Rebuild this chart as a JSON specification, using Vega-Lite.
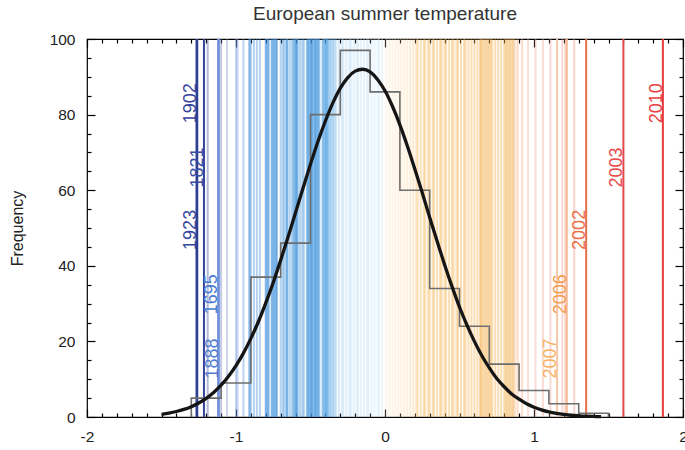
{
  "$schema": "https://vega.github.io/schema/vega-lite/v6.json",
  "width": 596,
  "height": 378,
  "autosize": "none",
  "padding": {"left": 87, "top": 39, "right": 2, "bottom": 33},
  "title": {"text": "European summer temperature", "fontSize": 19, "fontWeight": "normal", "font": "Liberation Sans", "color": "#333333", "offset": 8, "frame": "group", "anchor": "middle"},
  "config": {"view": {"stroke": "#000000", "strokeWidth": 1.2}, "font": "Liberation Sans"},
  "datasets": {
    "stripes": [
      {"t": -1.19}, {"t": -1.10}, {"t": -1.06}, {"t": -1.00}, {"t": -0.99}, {"t": -0.95}, {"t": -0.91}, {"t": -0.91}, {"t": -0.90},
      {"t": -0.88}, {"t": -0.86}, {"t": -0.84}, {"t": -0.80}, {"t": -0.80}, {"t": -0.79}, {"t": -0.785}, {"t": -0.78},
      {"t": -0.76}, {"t": -0.76}, {"t": -0.75}, {"t": -0.745}, {"t": -0.74}, {"t": -0.73}, {"t": -0.73}, {"t": -0.725},
      {"t": -0.70}, {"t": -0.685}, {"t": -0.675}, {"t": -0.66}, {"t": -0.66}, {"t": -0.655},
      {"t": -0.64}, {"t": -0.625},
      {"t": -0.615}, {"t": -0.61}, {"t": -0.60}, {"t": -0.60}, {"t": -0.595}, {"t": -0.59}, {"t": -0.585},
      {"t": -0.57}, {"t": -0.555}, {"t": -0.545},
      {"t": -0.525}, {"t": -0.52}, {"t": -0.515}, {"t": -0.51}, {"t": -0.50}, {"t": -0.50}, {"t": -0.495}, {"t": -0.49}, {"t": -0.485}, {"t": -0.48}, {"t": -0.47}, {"t": -0.47}, {"t": -0.465}, {"t": -0.46}, {"t": -0.455}, {"t": -0.45}, {"t": -0.445}, {"t": -0.44},
      {"t": -0.42}, {"t": -0.415}, {"t": -0.41}, {"t": -0.40}, {"t": -0.40}, {"t": -0.395}, {"t": -0.39}, {"t": -0.385}, {"t": -0.38},
      {"t": -0.37}, {"t": -0.36}, {"t": -0.35}, {"t": -0.34}, {"t": -0.33},
      {"t": -0.31}, {"t": -0.29}, {"t": -0.28}, {"t": -0.26}, {"t": -0.24}, {"t": -0.23}, {"t": -0.21}, {"t": -0.19}, {"t": -0.18}, {"t": -0.16}, {"t": -0.14}, {"t": -0.12}, {"t": -0.11}, {"t": -0.09}, {"t": -0.07}, {"t": -0.05}, {"t": -0.04}, {"t": -0.02},
      {"t": 0.01}, {"t": 0.03}, {"t": 0.05}, {"t": 0.07}, {"t": 0.09}, {"t": 0.11}, {"t": 0.13}, {"t": 0.15}, {"t": 0.17},
      {"t": 0.19}, {"t": 0.21}, {"t": 0.22}, {"t": 0.24}, {"t": 0.26}, {"t": 0.27}, {"t": 0.29}, {"t": 0.30}, {"t": 0.32}, {"t": 0.33}, {"t": 0.35}, {"t": 0.37}, {"t": 0.38}, {"t": 0.40}, {"t": 0.41}, {"t": 0.43}, {"t": 0.45}, {"t": 0.46}, {"t": 0.48}, {"t": 0.49}, {"t": 0.51}, {"t": 0.53}, {"t": 0.54}, {"t": 0.56}, {"t": 0.58}, {"t": 0.60}, {"t": 0.62}, {"t": 0.64}, {"t": 0.64}, {"t": 0.65}, {"t": 0.66}, {"t": 0.67}, {"t": 0.68}, {"t": 0.69}, {"t": 0.70}, {"t": 0.71}, {"t": 0.72}, {"t": 0.74}, {"t": 0.76}, {"t": 0.78}, {"t": 0.80}, {"t": 0.81}, {"t": 0.82}, {"t": 0.83}, {"t": 0.84}, {"t": 0.85}, {"t": 0.86}, {"t": 0.87}, {"t": 0.89},
      {"t": 0.92}, {"t": 0.96}, {"t": 1.01}, {"t": 1.06}, {"t": 1.11}, {"t": 1.19}, {"t": 1.21}, {"t": 1.27}
    ],
    "extremes": [
      {"year": "1902", "t": -1.265, "ly": 83},
      {"year": "1821", "t": -1.215, "ly": 66},
      {"year": "1923", "t": -1.26, "ly": 49.5},
      {"year": "1695", "t": -1.12, "ly": 32.5},
      {"year": "1888", "t": -1.115, "ly": 15.5},
      {"year": "2007", "t": 1.155, "ly": 15.5},
      {"year": "2006", "t": 1.22, "ly": 32.5},
      {"year": "2002", "t": 1.35, "ly": 49.5},
      {"year": "2003", "t": 1.60, "ly": 66},
      {"year": "2010", "t": 1.865, "ly": 83}
    ],
    "hist": [
      {"i": 0, "x": -1.3, "n": 0}, {"i": 1, "x": -1.3, "n": 5}, {"i": 2, "x": -1.1, "n": 9}, {"i": 3, "x": -0.9, "n": 37},
      {"i": 4, "x": -0.7, "n": 46}, {"i": 5, "x": -0.5, "n": 80}, {"i": 6, "x": -0.3, "n": 97}, {"i": 7, "x": -0.1, "n": 86},
      {"i": 8, "x": 0.1, "n": 60}, {"i": 9, "x": 0.3, "n": 34}, {"i": 10, "x": 0.5, "n": 24}, {"i": 11, "x": 0.7, "n": 14},
      {"i": 12, "x": 0.9, "n": 7}, {"i": 13, "x": 1.1, "n": 3.5}, {"i": 14, "x": 1.3, "n": 1}, {"i": 15, "x": 1.5, "n": 0}
    ],
    "fit": [
      {"x": -1.5, "f": 0.72}, {"x": -1.45, "f": 1.03}, {"x": -1.4, "f": 1.45}, {"x": -1.35, "f": 2.0}, {"x": -1.3, "f": 2.74},
      {"x": -1.25, "f": 3.7}, {"x": -1.2, "f": 4.93}, {"x": -1.15, "f": 6.48}, {"x": -1.1, "f": 8.41}, {"x": -1.05, "f": 10.76},
      {"x": -1.0, "f": 13.58}, {"x": -0.95, "f": 16.9}, {"x": -0.9, "f": 20.8}, {"x": -0.85, "f": 25.2}, {"x": -0.8, "f": 30.2},
      {"x": -0.75, "f": 35.6}, {"x": -0.7, "f": 41.5}, {"x": -0.65, "f": 47.7}, {"x": -0.6, "f": 54.1}, {"x": -0.55, "f": 60.6},
      {"x": -0.5, "f": 66.9}, {"x": -0.45, "f": 72.9}, {"x": -0.4, "f": 78.3}, {"x": -0.35, "f": 83.1}, {"x": -0.3, "f": 87.0},
      {"x": -0.25, "f": 89.8}, {"x": -0.2, "f": 91.5}, {"x": -0.15, "f": 92.0}, {"x": -0.1, "f": 91.3}, {"x": -0.05, "f": 89.3},
      {"x": 0.0, "f": 86.3}, {"x": 0.05, "f": 82.2}, {"x": 0.1, "f": 77.3}, {"x": 0.15, "f": 71.7}, {"x": 0.2, "f": 65.6},
      {"x": 0.25, "f": 59.3}, {"x": 0.3, "f": 52.8}, {"x": 0.35, "f": 46.5}, {"x": 0.4, "f": 40.3}, {"x": 0.45, "f": 34.5},
      {"x": 0.5, "f": 29.1}, {"x": 0.55, "f": 24.3}, {"x": 0.6, "f": 20.0}, {"x": 0.65, "f": 16.2}, {"x": 0.7, "f": 13.0},
      {"x": 0.75, "f": 10.2}, {"x": 0.8, "f": 8.0}, {"x": 0.85, "f": 6.1}, {"x": 0.9, "f": 4.7}, {"x": 0.95, "f": 3.5},
      {"x": 1.0, "f": 2.6}, {"x": 1.05, "f": 1.9}, {"x": 1.1, "f": 1.35}, {"x": 1.15, "f": 0.96}, {"x": 1.2, "f": 0.67},
      {"x": 1.25, "f": 0.46}, {"x": 1.3, "f": 0.32}, {"x": 1.35, "f": 0.21}, {"x": 1.4, "f": 0.14}, {"x": 1.45, "f": 0.09}
    ]
  },
  "layer": [
    {
      "data": {"name": "stripes"},
      "mark": {"type": "rule", "strokeWidth": 2, "opacity": 0.4},
      "encoding": {
        "x": {
          "field": "t", "type": "quantitative",
          "scale": {"domain": [-2, 2], "nice": false, "zero": false},
          "axis": {
            "orient": "bottom", "title": null, "domain": false, "grid": false,
            "values": [-2, -1.9, -1.8, -1.7, -1.6, -1.5, -1.4, -1.3, -1.2, -1.1, -1, -0.9, -0.8, -0.7, -0.6, -0.5, -0.4, -0.3, -0.2, -0.1, 0, 0.1, 0.2, 0.3, 0.4, 0.5, 0.6, 0.7, 0.8, 0.9, 1, 1.1, 1.2, 1.3, 1.4, 1.5, 1.6, 1.7, 1.8, 1.9, 2],
            "tickSize": {"condition": {"test": "abs(datum.value - round(datum.value)) < 0.001", "value": -8}, "value": -4},
            "tickColor": "#000000", "tickWidth": 1.2,
            "labelExpr": "abs(datum.value - round(datum.value)) < 0.001 ? replace(format(datum.value, 'd'), '\u2212', '-') : ''",
            "labelOverlap": false, "labelFlush": false,
            "labelFontSize": 15.5, "labelColor": "#222222", "labelPadding": 20
          }
        },
        "color": {
          "field": "t", "type": "quantitative", "legend": null,
          "scale": {
            "domain": [-1.3, -1.15, -1.05, -0.92, -0.5, -0.36, -0.3, 0, 0.01, 0.15, 0.25, 0.85, 0.95, 1.3],
            "range": ["#2a3a8a", "#4a60b0", "#8a98d4", "#3f8fd8", "#3a90da", "#52a4e4", "#a8d2f2", "#d4eafa", "#fde8cc", "#fbd8a8", "#f6b452", "#f3a83c", "#f6b0a0", "#f09080"]
          }
        }
      }
    },
    {
      "data": {"name": "extremes"},
      "mark": {"type": "rule", "strokeWidth": 2},
      "encoding": {
        "x": {"field": "t", "type": "quantitative", "axis": null},
        "color": {
          "field": "t", "type": "quantitative", "legend": null,
          "scale": {
            "domain": [-1.27, -1.21, -1.13, 1.15, 1.23, 1.35, 1.6, 1.87],
            "range": ["#2e3e90", "#34469c", "#7090d8", "#f8c8a8", "#f6b890", "#e8704a", "#e84848", "#e83c3c"]
          }
        }
      }
    },
    {
      "data": {"name": "hist"},
      "mark": {"type": "line", "interpolate": "step-after", "color": "#6e6e6e", "strokeWidth": 1.6},
      "encoding": {
        "x": {
          "field": "x", "type": "quantitative",
          "axis": {
            "orient": "top", "title": null, "domain": false, "grid": false, "labels": false,
            "values": [-2, -1.9, -1.8, -1.7, -1.6, -1.5, -1.4, -1.3, -1.2, -1.1, -1, -0.9, -0.8, -0.7, -0.6, -0.5, -0.4, -0.3, -0.2, -0.1, 0, 0.1, 0.2, 0.3, 0.4, 0.5, 0.6, 0.7, 0.8, 0.9, 1, 1.1, 1.2, 1.3, 1.4, 1.5, 1.6, 1.7, 1.8, 1.9, 2],
            "tickSize": {"condition": {"test": "abs(datum.value - round(datum.value)) < 0.001", "value": -8}, "value": -4},
            "tickColor": "#000000", "tickWidth": 1.2
          }
        },
        "y": {
          "field": "n", "type": "quantitative",
          "scale": {"domain": [0, 100], "nice": false},
          "axis": {
            "orient": "left", "title": "Frequency", "titleFontSize": 16, "titleFontWeight": "normal", "titleColor": "#222222", "titlePadding": 24,
            "domain": false, "grid": false,
            "values": [0, 5, 10, 15, 20, 25, 30, 35, 40, 45, 50, 55, 60, 65, 70, 75, 80, 85, 90, 95, 100],
            "tickSize": {"condition": {"test": "datum.value % 20 === 0", "value": -8}, "value": -4},
            "tickColor": "#000000", "tickWidth": 1.2,
            "labelExpr": "datum.value % 20 === 0 ? datum.label : ''",
            "labelOverlap": false,
            "labelFontSize": 15.5, "labelColor": "#222222", "labelPadding": 20
          }
        },
        "order": {"field": "i", "type": "quantitative"}
      }
    },
    {
      "data": {"name": "fit"},
      "mark": {"type": "line", "color": "#151515", "strokeWidth": 3.3, "interpolate": "monotone"},
      "encoding": {
        "x": {"field": "x", "type": "quantitative", "axis": null},
        "y": {
          "field": "f", "type": "quantitative",
          "axis": {
            "orient": "right", "title": null, "domain": false, "grid": false, "labels": false,
            "values": [0, 5, 10, 15, 20, 25, 30, 35, 40, 45, 50, 55, 60, 65, 70, 75, 80, 85, 90, 95, 100],
            "tickSize": {"condition": {"test": "datum.value % 20 === 0", "value": -8}, "value": -4},
            "tickColor": "#000000", "tickWidth": 1.2
          }
        }
      }
    },
    {
      "data": {"name": "extremes"},
      "mark": {"type": "text", "angle": 270, "align": "center", "baseline": "alphabetic", "fontSize": 18, "dy": -1},
      "encoding": {
        "x": {"field": "t", "type": "quantitative", "axis": null},
        "y": {"field": "ly", "type": "quantitative", "axis": null},
        "text": {"field": "year"},
        "color": {
          "field": "t", "type": "quantitative", "legend": null,
          "scale": {
            "domain": [-1.27, -1.21, -1.13, 1.15, 1.23, 1.35, 1.6, 1.87],
            "range": ["#34449a", "#3a4ea4", "#4a7cd0", "#f5b565", "#f09a50", "#e8704a", "#e84848", "#e84040"]
          }
        }
      }
    }
  ],
  "resolve": {"scale": {"color": "independent"}, "axis": {"x": "independent", "y": "independent"}}
}
